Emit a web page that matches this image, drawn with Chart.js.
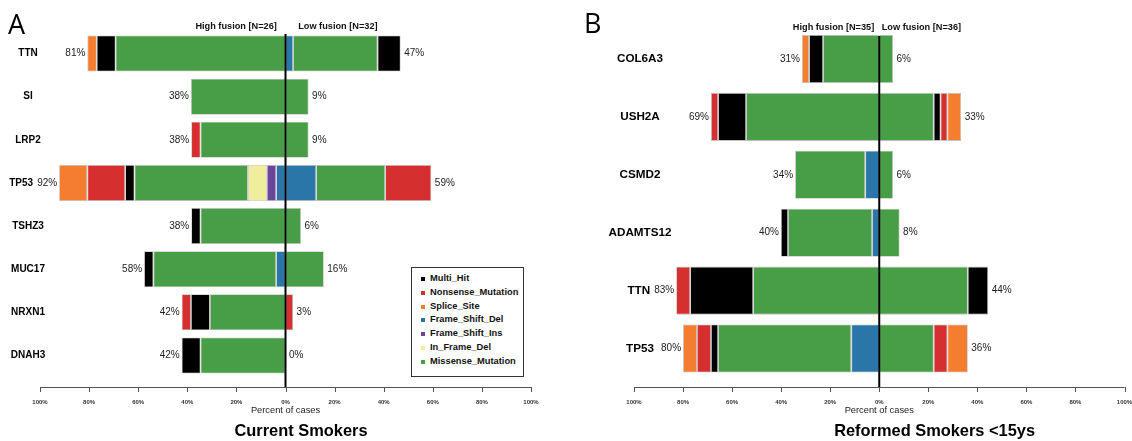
<!DOCTYPE html>
<html>
<head>
<meta charset="utf-8">
<script src="https://cdn.jsdelivr.net/npm/chart.js@4.4.1/dist/chart.umd.min.js"></script>
<style>
  html, body { margin: 0; padding: 0; background: #fff; }
  #wrap { position: relative; width: 1132px; height: 441px; overflow: hidden; font-family: "Liberation Sans", Arial, sans-serif; }
  canvas { position: absolute; top: 0; }
  #legend { position: absolute; left: 411px; top: 267px; width: 113px; height: 110px; box-sizing: border-box;
            border: 1.5px solid #333; padding-top: 4px; background: #fff; }
  .li { position: relative; height: 13.8px; line-height: 13.8px; padding-left: 18px; font-size: 9.3px;
        font-weight: bold; color: #111; white-space: nowrap; }
  .li i { position: absolute; left: 8.5px; top: 5px; width: 4px; height: 4px; }
</style>
</head>
<body>
<div id="wrap">
  <canvas id="cA" width="566" height="441" style="left:0"></canvas>
  <canvas id="cB" width="566" height="441" style="left:566px"></canvas>
  <div id="legend"></div>
</div>
<script>
// stacking order, from the centre line outwards
const mutTypes = ["Frame_Shift_Del", "Frame_Shift_Ins", "In_Frame_Del", "Missense_Mutation",
                  "Multi_Hit", "Nonsense_Mutation", "Splice_Site"];
const typeColors = ["#2b76a8", "#6a459a", "#f0ee9c", "#489e47", "#000000", "#d62f2f", "#f47d30"];
const legendOrder = ["Multi_Hit", "Nonsense_Mutation", "Splice_Site", "Frame_Shift_Del",
                     "Frame_Shift_Ins", "In_Frame_Del", "Missense_Mutation"];
const tickValues = [-100, -80, -60, -40, -20, 0, 20, 40, 60, 80, 100];

// Panel A: current smokers (percent of cases)
const genesA = ["TTN", "SI", "LRP2", "TP53", "TSHZ3", "MUC17", "NRXN1", "DNAH3"];
const aHighFsDel    = [0, 0, 0, 3.8, 0, 3.8, 0, 0];
const aHighFsIns    = [0, 0, 0, 3.8, 0, 0, 0, 0];
const aHighInDel    = [0, 0, 0, 7.7, 0, 0, 0, 0];
const aHighMissense = [69.2, 38.5, 34.6, 46.2, 34.6, 50.0, 30.8, 34.6];
const aHighMulti    = [7.7, 0, 0, 3.8, 3.8, 3.8, 7.7, 7.7];
const aHighNonsense = [0, 0, 3.8, 15.4, 0, 0, 3.8, 0];
const aHighSplice   = [3.8, 0, 0, 11.5, 0, 0, 0, 0];
const aLowFsDel     = [3.1, 0, 0, 12.5, 0, 0, 0, 0];
const aLowFsIns     = [0, 0, 0, 0, 0, 0, 0, 0];
const aLowInDel     = [0, 0, 0, 0, 0, 0, 0, 0];
const aLowMissense  = [34.4, 9.4, 9.4, 28.1, 6.3, 15.6, 0, 0];
const aLowMulti     = [9.4, 0, 0, 0, 0, 0, 0, 0];
const aLowNonsense  = [0, 0, 0, 18.8, 0, 0, 3.1, 0];
const aLowSplice    = [0, 0, 0, 0, 0, 0, 0, 0];
const aHighPct = [81, 38, 38, 92, 38, 58, 42, 42];
const aLowPct  = [47, 9, 9, 59, 6, 16, 3, 0];

// Panel B: reformed smokers <15ys
const genesB = ["COL6A3", "USH2A", "CSMD2", "ADAMTS12", "TTN", "TP53"];
const bHighFsDel    = [0, 0, 5.7, 2.9, 0, 11.4];
const bHighFsIns    = [0, 0, 0, 0, 0, 0];
const bHighInDel    = [0, 0, 0, 0, 0, 0];
const bHighMissense = [22.9, 54.3, 28.6, 34.3, 51.4, 54.3];
const bHighMulti    = [5.7, 11.4, 0, 2.9, 25.7, 2.9];
const bHighNonsense = [0, 2.9, 0, 0, 5.7, 5.7];
const bHighSplice   = [2.9, 0, 0, 0, 0, 5.7];
const bLowFsDel     = [0, 0, 0, 0, 0, 0];
const bLowFsIns     = [0, 0, 0, 0, 0, 0];
const bLowInDel     = [0, 0, 0, 0, 0, 0];
const bLowMissense  = [5.6, 22.2, 5.6, 8.3, 36.1, 22.2];
const bLowMulti     = [0, 2.8, 0, 0, 8.3, 0];
const bLowNonsense  = [0, 2.8, 0, 0, 0, 5.6];
const bLowSplice    = [0, 5.6, 0, 0, 0, 8.3];
const bHighPct = [31, 69, 34, 40, 83, 80];
const bLowPct  = [6, 33, 6, 8, 44, 36];

const FONT = '"Liberation Sans", Arial, sans-serif';

function buildDatasets(highRows, lowRows) {
  const out = [];
  mutTypes.forEach((t, k) => {
    const base = { label: t, backgroundColor: typeColors[k], borderColor: "#c2c2c2", borderWidth: 0.8,
                   borderSkipped: false, stack: "s" };
    out.push({ ...base, data: highRows[k].map(v => v ? -v : null) });
    out.push({ ...base, data: lowRows[k].map(v => v ? v : null) });
  });
  return out;
}

function overlayPlugin(p) {
  const sum = (rows, i) => rows.reduce((s, r) => s + r[i], 0);
  return {
    id: "overlay",
    afterDatasetsDraw(chart) {
      const { ctx, scales: { x, y } } = chart;
      const x0 = x.getPixelForValue(0);
      ctx.save();
      ctx.textBaseline = "middle";

      // gene names and totals
      p.genes.forEach((g, i) => {
        const yy = y.getPixelForValue(i);
        ctx.fillStyle = "#222";
        ctx.font = "10px " + FONT;
        const hiText = p.highPct[i] + "%";
        const hiRight = x.getPixelForValue(-sum(p.high, i)) - 2;
        const hiLeft = hiRight - ctx.measureText(hiText).width;
        ctx.textAlign = "right";
        ctx.fillText(hiText, hiRight, yy);
        ctx.textAlign = "left";
        ctx.fillText(p.lowPct[i] + "%", x.getPixelForValue(sum(p.low, i)) + 3.5, yy);

        ctx.fillStyle = "#000";
        ctx.font = "bold " + p.geneSize + "px " + FONT;
        const w = ctx.measureText(g).width;
        const gx = Math.min(p.geneX, hiLeft - 4 - w / 2);
        ctx.textAlign = "center";
        ctx.fillText(g, gx, yy);
      });

      // group headers
      ctx.fillStyle = "#111";
      ctx.font = "bold 9.2px " + FONT;
      ctx.textAlign = "right";
      ctx.fillText(p.highLabel, x0 - p.headGapL, p.headY);
      ctx.textAlign = "left";
      ctx.fillText(p.lowLabel, x0 + p.headGapR, p.headY);

      // centre line
      ctx.strokeStyle = "#000";
      ctx.lineWidth = 2;
      ctx.beginPath();
      ctx.moveTo(x0, p.lineTop);
      ctx.lineTo(x0, p.axisY);
      ctx.stroke();

      // bottom axis
      ctx.strokeStyle = "#555";
      ctx.lineWidth = 1;
      ctx.beginPath();
      ctx.moveTo(x.getPixelForValue(-100), p.axisY + 0.5);
      ctx.lineTo(x.getPixelForValue(100), p.axisY + 0.5);
      tickValues.forEach(v => {
        const tx = Math.round(x.getPixelForValue(v)) + 0.5;
        ctx.moveTo(tx, p.axisY);
        ctx.lineTo(tx, p.axisY + 5);
      });
      ctx.stroke();
      ctx.fillStyle = "#333";
      ctx.font = "bold 6px " + FONT;
      ctx.textAlign = "center";
      tickValues.forEach(v => ctx.fillText(Math.abs(v) + "%", x.getPixelForValue(v), p.axisY + 15));
      ctx.font = "9.3px " + FONT;
      ctx.fillStyle = "#222";
      ctx.fillText("Percent of cases", x0, p.axisY + 23);

      // title and panel letter
      ctx.textBaseline = "alphabetic";
      ctx.fillStyle = "#000";
      ctx.font = "bold 16.4px " + FONT;
      ctx.fillText(p.title, p.titleX, 436);
      ctx.textAlign = "left";
      ctx.font = '27px "Open Sans", sans-serif';
      ctx.fillText(p.letter, p.letterX, p.letterY);
      ctx.restore();
    }
  };
}

function makePanel(id, p) {
  new Chart(document.getElementById(id), {
    type: "bar",
    data: { labels: p.genes, datasets: buildDatasets(p.high, p.low) },
    options: {
      indexAxis: "y",
      responsive: false,
      animation: false,
      events: [],
      layout: { padding: p.padding },
      datasets: { bar: { barPercentage: p.barPct, categoryPercentage: 1 } },
      plugins: { legend: { display: false }, tooltip: { enabled: false } },
      scales: {
        x: { type: "linear", min: -100, max: 100, stacked: true, display: false },
        y: { stacked: true, display: false }
      }
    },
    plugins: [overlayPlugin(p)]
  });
}

makePanel("cA", {
  genes: genesA,
  high: [aHighFsDel, aHighFsIns, aHighInDel, aHighMissense, aHighMulti, aHighNonsense, aHighSplice],
  low: [aLowFsDel, aLowFsIns, aLowInDel, aLowMissense, aLowMulti, aLowNonsense, aLowSplice],
  highPct: aHighPct, lowPct: aLowPct,
  padding: { left: 40, right: 35, top: 32, bottom: 64 }, barPct: 0.835,
  geneX: 28, geneSize: 10,
  highLabel: "High fusion [N=26]", lowLabel: "Low fusion [N=32]", headY: 26, headGapL: 8.7, headGapR: 12.7,
  lineTop: 34, axisY: 387,
  title: "Current Smokers", titleX: 301, letter: "A", letterX: 8, letterY: 34
});

makePanel("cB", {
  genes: genesB,
  high: [bHighFsDel, bHighFsIns, bHighInDel, bHighMissense, bHighMulti, bHighNonsense, bHighSplice],
  low: [bLowFsDel, bLowFsIns, bLowInDel, bLowMissense, bLowMulti, bLowNonsense, bLowSplice],
  highPct: bHighPct, lowPct: bLowPct,
  padding: { left: 68, right: 7.5, top: 30, bottom: 63.5 }, barPct: 0.83,
  geneX: 74, geneSize: 11.7,
  highLabel: "High fusion [N=35]", lowLabel: "Low fusion [N=36]", headY: 27.5, headGapL: 5, headGapR: 2.5,
  lineTop: 36, axisY: 387,
  title: "Reformed Smokers <15ys", titleX: 368.6, letter: "B", letterX: 18, letterY: 33
});

// legend box
const legend = document.getElementById("legend");
legendOrder.forEach(t => {
  const row = document.createElement("div");
  row.className = "li";
  row.innerHTML = '<i style="background:' + typeColors[mutTypes.indexOf(t)] + '"></i>' + t;
  legend.appendChild(row);
});
</script>
</body>
</html>
